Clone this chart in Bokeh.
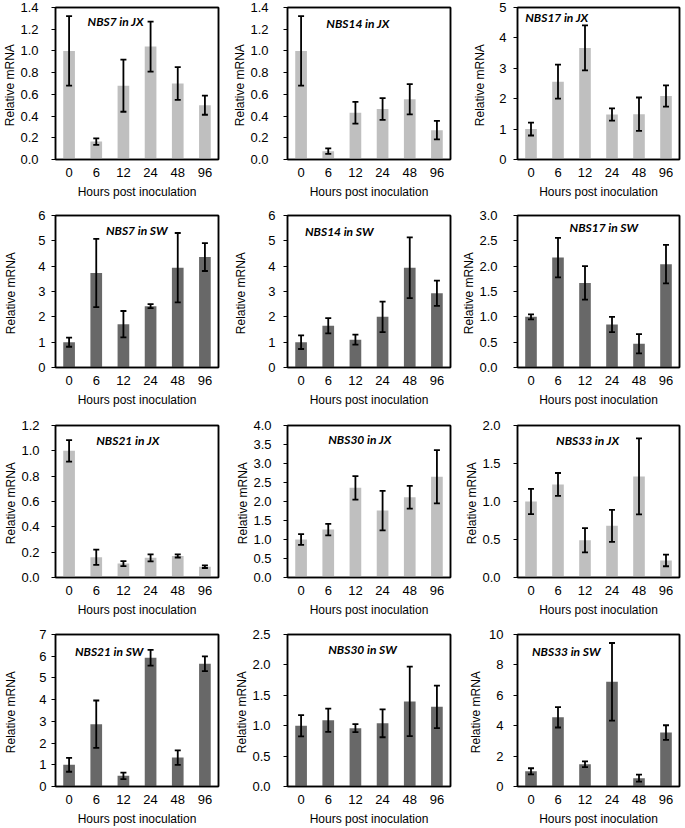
import numpy as np
from bokeh.plotting import figure
from bokeh.layouts import gridplot
from bokeh.models import (ColumnDataSource, Whisker, TeeHead, FactorRange, Range1d,
                          FixedTicker, NumeralTickFormatter, Label, LinearAxis,
                          CategoricalAxis)
from bokeh.embed import file_html
from bokeh.resources import INLINE

# ---------------- data ----------------
hours = ["0", "6", "12", "24", "48", "96"]

titles = ["NBS7 in JX", "NBS14 in JX", "NBS17 in JX",
          "NBS7 in SW", "NBS14 in SW", "NBS17 in SW",
          "NBS21 in JX", "NBS30 in JX", "NBS33 in JX",
          "NBS21 in SW", "NBS30 in SW", "NBS33 in SW"]

nbs7_jx = [1.00, 0.165, 0.68, 1.04, 0.70, 0.50]
nbs7_jx_err = [0.32, 0.03, 0.24, 0.23, 0.15, 0.088]
nbs14_jx = [1.00, 0.077, 0.43, 0.465, 0.555, 0.27]
nbs14_jx_err = [0.32, 0.025, 0.10, 0.10, 0.14, 0.085]
nbs17_jx = [1.00, 2.56, 3.67, 1.48, 1.49, 2.09]
nbs17_jx_err = [0.21, 0.56, 0.74, 0.20, 0.55, 0.35]

nbs7_sw = [1.00, 3.73, 1.71, 2.42, 3.94, 4.36]
nbs7_sw_err = [0.18, 1.35, 0.52, 0.08, 1.37, 0.55]
nbs14_sw = [1.00, 1.65, 1.10, 2.00, 3.94, 2.93]
nbs14_sw_err = [0.27, 0.30, 0.20, 0.60, 1.20, 0.50]
nbs17_sw = [1.00, 2.17, 1.67, 0.85, 0.47, 2.04]
nbs17_sw_err = [0.05, 0.39, 0.33, 0.15, 0.19, 0.38]

nbs21_jx = [1.00, 0.16, 0.11, 0.155, 0.17, 0.085]
nbs21_jx_err = [0.085, 0.06, 0.02, 0.027, 0.012, 0.01]
nbs30_jx = [1.00, 1.26, 2.36, 1.76, 2.11, 2.65]
nbs30_jx_err = [0.14, 0.15, 0.31, 0.52, 0.30, 0.70]
nbs33_jx = [1.00, 1.225, 0.49, 0.68, 1.33, 0.225]
nbs33_jx_err = [0.165, 0.15, 0.16, 0.21, 0.50, 0.077]

nbs21_sw = [1.00, 2.87, 0.49, 5.93, 1.33, 5.65]
nbs21_sw_err = [0.32, 1.09, 0.15, 0.36, 0.33, 0.34]
nbs30_sw = [1.00, 1.09, 0.96, 1.04, 1.40, 1.31]
nbs30_sw_err = [0.175, 0.19, 0.065, 0.23, 0.57, 0.35]
nbs33_sw = [1.00, 4.55, 1.46, 6.89, 0.55, 3.55]
nbs33_sw_err = [0.20, 0.67, 0.19, 2.55, 0.23, 0.48]

means = [nbs7_jx, nbs14_jx, nbs17_jx, nbs7_sw, nbs14_sw, nbs17_sw,
         nbs21_jx, nbs30_jx, nbs33_jx, nbs21_sw, nbs30_sw, nbs33_sw]
errs = [nbs7_jx_err, nbs14_jx_err, nbs17_jx_err, nbs7_sw_err, nbs14_sw_err, nbs17_sw_err,
        nbs21_jx_err, nbs30_jx_err, nbs33_jx_err, nbs21_sw_err, nbs30_sw_err, nbs33_sw_err]
cultivar = ["JX", "JX", "JX", "SW", "SW", "SW", "JX", "JX", "JX", "SW", "SW", "SW"]

y_max = [1.4, 1.4, 5, 6, 6, 3.0, 1.2, 4.0, 2.0, 7, 2.5, 10]
y_step = [0.2, 0.2, 1, 1, 1, 0.5, 0.2, 0.5, 0.5, 1, 0.5, 2]

# ---------------- layout / style ----------------
colors = {"JX": "#bfbfbf", "SW": "#686868"}
col_w = [230, 229, 225]
b_left = [51, 53, 53]
b_right = [12, 9, 5]
row_h = [207, 210, 208, 203]
b_top = [7, 8, 8, 9]
b_bottom = [48, 50, 48, 42]
REF_W, REF_H = 168.0, 151.0

# title offsets (px from frame top-left, reference scale)
title_dx = [33, 40, 8, 52, 18, 54, 42, 42, 40, 20, 42, 15]
title_dy = [14, 16, 10, 15, 16, 12, 15, 14, 15, 17, 15, 17]
# tick label gap and axis-label centre distance from frame (px)
tick_gap = [17, 19, 11, 10, 12, 20, 16, 16, 17, 9, 17, 14]
lab_dist = [42, 41, 34, 41, 43, 39, 40, 41, 39, 41, 41, 38]

AX_FONT = "Liberation Sans"


def label_width(s, size=13):
    return sum(0.556 if ch.isdigit() else 0.278 for ch in s) * size


def box_axis(ax):
    ax.ticker = FixedTicker(ticks=[])
    ax.major_tick_out = 0
    ax.major_tick_in = 0
    ax.minor_tick_out = 0
    ax.minor_tick_in = 0
    ax.major_label_standoff = 0
    ax.major_label_text_font_size = "0px"
    ax.axis_line_color = "black"
    ax.axis_line_width = 1.5
    return ax


def make_panel(i):
    r, c = divmod(i, 3)
    ymax, step = y_max[i], y_step[i]
    p = figure(x_range=FactorRange(factors=hours, range_padding=0, factor_padding=0),
               y_range=Range1d(0, ymax),
               width=col_w[c], height=row_h[r],
               min_border_left=b_left[c], min_border_right=b_right[c],
               min_border_top=b_top[r], min_border_bottom=b_bottom[r],
               output_backend="svg", toolbar_location=None)
    p.xgrid.visible = False
    p.ygrid.visible = False
    p.outline_line_color = "black"
    p.outline_line_width = 1.5
    p.background_fill_color = "white"
    p.border_fill_color = "white"

    ya = p.left[0]
    xa = p.below[0]

    m = means[i]
    e = errs[i]
    src = ColumnDataSource(dict(x=hours, top=m,
                                upper=[a + b for a, b in zip(m, e)],
                                lower=[a - b for a, b in zip(m, e)]))
    p.vbar(x="x", top="top", width=0.43, source=src,
           fill_color=colors[cultivar[i]], line_color=None)
    p.add_layout(Whisker(base="x", upper="upper", lower="lower", source=src,
                         dimension="height", level="annotation",
                         line_color="black", line_width=1.8,
                         upper_head=TeeHead(size=6, line_color="black", line_width=1.8),
                         lower_head=TeeHead(size=6, line_color="black", line_width=1.8)))

    # closing lines of the plot box (top and right)
    p.add_layout(box_axis(LinearAxis()), "right")
    p.add_layout(box_axis(CategoricalAxis()), "above")

    ticks = list(np.round(np.arange(0, ymax + step / 2, step), 4))
    fmt = "0.0" if step < 1 else "0"
    ya.ticker = FixedTicker(ticks=ticks)
    ya.formatter = NumeralTickFormatter(format=fmt)
    ya.axis_label = "Relative  mRNA"
    ya.axis_label_text_font = AX_FONT
    ya.axis_label_text_font_size = "12px"
    ya.axis_label_text_font_style = "normal"
    ya.axis_label_text_color = "black"
    ya.major_label_text_font = AX_FONT
    ya.major_label_text_font_size = "13px"
    ya.major_label_text_color = "black"
    ya.major_tick_out = 4
    ya.major_tick_in = 0
    ya.minor_tick_out = 0
    ya.minor_tick_in = 0
    ya.major_tick_line_color = "black"
    ya.axis_line_color = "black"
    ya.axis_line_width = 1.5
    ya.major_label_standoff = tick_gap[i] - 4
    longest = max(label_width(("{:.1f}" if step < 1 else "{:.0f}").format(t)) for t in ticks)
    ya.axis_label_standoff = int(max(0, round(lab_dist[i] - 7 - tick_gap[i] - longest)))

    xa.axis_label = "Hours post inoculation"
    xa.axis_label_text_font = AX_FONT
    xa.axis_label_text_font_size = "12px"
    xa.axis_label_text_font_style = "normal"
    xa.axis_label_text_color = "black"
    xa.major_label_text_font = AX_FONT
    xa.major_label_text_font_size = "13px"
    xa.major_label_text_color = "black"
    xa.major_tick_out = 0
    xa.major_tick_in = 0
    xa.major_tick_line_color = None
    xa.axis_line_color = "black"
    xa.axis_line_width = 1.5
    xa.major_label_standoff = 8
    xa.axis_label_standoff = 5

    tx = title_dx[i] / REF_W * len(hours)
    ty = ymax * (1 - title_dy[i] / REF_H)
    p.add_layout(Label(x=tx, y=ty, text=titles[i], text_font="Lato",
                       text_font_size="12px", text_font_style="bold italic",
                       text_color="black", text_baseline="middle", text_align="left"))
    return p


panels = [make_panel(i) for i in range(12)]
grid = gridplot([panels[0:3], panels[3:6], panels[6:9], panels[9:12]],
                toolbar_location=None)

open("out.html", "w").write(file_html(grid, INLINE))
